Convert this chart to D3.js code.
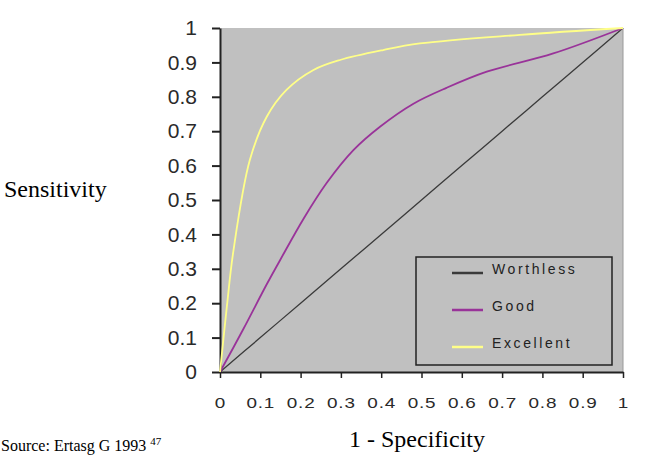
<!DOCTYPE html>
<html>
<head>
<meta charset="utf-8">
<script src="https://cdn.jsdelivr.net/npm/d3@7"></script>
<style>
  body { margin: 0; background: #fff; }
  svg text { font-family: "Liberation Sans", Arial, sans-serif; }
  .serif { font-family: "Liberation Serif", "Times New Roman", serif !important; }
</style>
</head>
<body>
<svg id="chart" width="650" height="456"></svg>
<script>
// ----------------------------------------------------------------------------
// data (x = 1 - specificity, y = sensitivity)
// ----------------------------------------------------------------------------
const worthlessX = [0, 0.1, 0.2, 0.3, 0.4, 0.5, 0.6, 0.7, 0.8, 0.9, 1];
const worthlessY = [0, 0.1, 0.2, 0.3, 0.4, 0.5, 0.6, 0.7, 0.8, 0.9, 1];

const goodX = [0, 0.058, 0.116, 0.149, 0.207, 0.265, 0.331, 0.397, 0.48, 0.562, 0.662, 0.827, 1];
const goodY = [0, 0.125, 0.255, 0.325, 0.445, 0.55, 0.645, 0.713, 0.78, 0.826, 0.873, 0.926, 1];

const excellentX = [0, 0.017, 0.033, 0.074, 0.116, 0.165, 0.232, 0.298, 0.405, 0.496, 0.744, 1];
const excellentY = [0, 0.19, 0.35, 0.616, 0.742, 0.82, 0.878, 0.907, 0.936, 0.955, 0.98, 1];

const xTicks = [0, 0.1, 0.2, 0.3, 0.4, 0.5, 0.6, 0.7, 0.8, 0.9, 1];
const yTicks = [0, 0.1, 0.2, 0.3, 0.4, 0.5, 0.6, 0.7, 0.8, 0.9, 1];

const seriesNames = ['Worthless', 'Good', 'Excellent'];
const seriesColors = ['#3a3a3a', '#993399', '#ffff88'];

// ----------------------------------------------------------------------------
// layout
// ----------------------------------------------------------------------------
const svg = d3.select('#chart');
const plotL = 220, plotR = 623, plotT = 28, plotB = 372;

const xScale = d3.scaleLinear().domain([0, 1]).range([plotL, plotR]);
const yScale = d3.scaleLinear().domain([0, 1]).range([plotB, plotT]);

// plot background
svg.append('rect')
  .attr('x', plotL).attr('y', plotT)
  .attr('width', plotR - plotL).attr('height', plotB - plotT)
  .attr('fill', '#c0c0c0');

svg.append('line')
  .attr('x1', plotR).attr('x2', plotR).attr('y1', plotT).attr('y2', plotB)
  .attr('stroke', '#9a9a9a').attr('stroke-width', 1);

// ----------------------------------------------------------------------------
// axes
// ----------------------------------------------------------------------------
const yAxis = svg.append('g')
  .attr('transform', `translate(${plotL},0)`)
  .call(d3.axisLeft(yScale).tickValues(yTicks).tickFormat(d3.format('')).tickSizeInner(8).tickSizeOuter(0).tickPadding(15));

yAxis.select('.domain').attr('stroke', '#222').attr('stroke-width', 2);
yAxis.selectAll('.tick line').attr('stroke', '#222').attr('stroke-width', 2);
yAxis.selectAll('.tick text')
  .attr('font-size', 21)
  .attr('fill', '#2a2a2a')
  .attr('font-family', '"Liberation Sans", Arial, sans-serif');

const xAxis = svg.append('g')
  .attr('transform', `translate(0,${plotB})`)
  .call(d3.axisBottom(xScale).tickValues(xTicks).tickFormat(d3.format('')).tickSizeInner(6).tickSizeOuter(0).tickPadding(20));

xAxis.select('.domain').attr('stroke', '#222').attr('stroke-width', 2);
xAxis.selectAll('.tick line').attr('stroke', '#222').attr('stroke-width', 1.5);
// the original labels are stretched sideways
xAxis.selectAll('.tick text')
  .attr('font-size', 14)
  .attr('letter-spacing', 0.6)
  .attr('transform', 'scale(1.35,1)')
  .attr('fill', '#2a2a2a')
  .attr('font-family', '"Liberation Sans", Arial, sans-serif');

// ----------------------------------------------------------------------------
// lines
// ----------------------------------------------------------------------------
const valueline = d3.line()
  .x(d => xScale(d[0]))
  .y(d => yScale(d[1]))
  .curve(d3.curveCatmullRom.alpha(0.5));

const allSeries = [
  d3.zip(worthlessX, worthlessY),
  d3.zip(goodX, goodY),
  d3.zip(excellentX, excellentY)
];

allSeries.forEach((s, i) => {
  svg.append('path')
    .attr('d', valueline(s))
    .attr('fill', 'none')
    .attr('stroke', seriesColors[i])
    .attr('stroke-width', i == 0 ? 1.3 : 1.8);
});

// ----------------------------------------------------------------------------
// legend
// ----------------------------------------------------------------------------
const legend = svg.append('g').attr('transform', 'translate(416,257)');
legend.append('rect')
  .attr('width', 196).attr('height', 108)
  .attr('fill', '#c0c0c0')
  .attr('stroke', '#222').attr('stroke-width', 1.5);

seriesNames.forEach((name, i) => {
  const y = 16 + i * 37;
  legend.append('line')
    .attr('x1', 36).attr('x2', 67).attr('y1', y).attr('y2', y)
    .attr('stroke', seriesColors[i]).attr('stroke-width', 2.5);
  legend.append('text')
    .attr('x', 76).attr('y', y + 1)
    .attr('font-size', 14)
    .attr('letter-spacing', 2.6)
    .attr('fill', '#222')
    .text(name);
});

// ----------------------------------------------------------------------------
// titles
// ----------------------------------------------------------------------------
svg.append('text')
  .attr('class', 'serif')
  .attr('x', 4).attr('y', 197)
  .attr('font-size', 24)
  .attr('fill', '#000')
  .text('Sensitivity');

svg.append('text')
  .attr('class', 'serif')
  .attr('x', 417).attr('y', 447)
  .attr('text-anchor', 'middle')
  .attr('font-size', 24)
  .attr('fill', '#000')
  .text('1 - Specificity');

const src = svg.append('text')
  .attr('class', 'serif')
  .attr('x', 1).attr('y', 451)
  .attr('font-size', 16)
  .attr('fill', '#000');
src.append('tspan').text('Source: Ertasg G 1993 ');
src.append('tspan').attr('font-size', 11).attr('dy', -6).text('47');
</script>
</body>
</html>
